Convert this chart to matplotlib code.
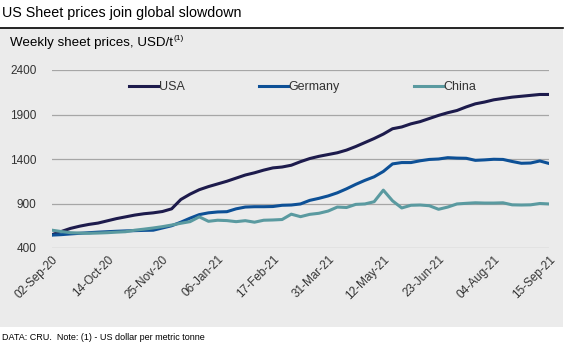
import numpy as np
import pandas as pd
import matplotlib.pyplot as plt
from matplotlib.patches import Rectangle
from matplotlib.lines import Line2D

plt.rcParams['font.family'] = ['Liberation Sans', 'DejaVu Sans']

# weekly dates, 02-Sep-20 .. 15-Sep-21
dates = pd.date_range("2020-09-02", "2021-09-15", freq="7D")

usa = [550, 585, 620, 645, 665, 680, 705, 730, 750, 770, 785, 795, 810, 840,
       945, 1005, 1055, 1090, 1120, 1150, 1185, 1220, 1245, 1275, 1300, 1310,
       1330, 1370, 1405, 1430, 1450, 1470, 1500, 1540, 1585, 1630, 1680, 1740,
       1760, 1795, 1820, 1855, 1890, 1920, 1945, 1985, 2020, 2040, 2065, 2080,
       2095, 2105, 2115, 2125, 2125]

germany = [545, 550, 558, 565, 572, 578, 583, 588, 592, 595, 598, 600, 625, 650,
           690, 735, 775, 795, 805, 808, 840, 860, 864, 864, 866, 880, 883, 895,
           935, 958, 985, 1020, 1065, 1115, 1160, 1200, 1260, 1345, 1360, 1360,
           1380, 1395, 1400, 1415, 1410, 1408, 1385, 1390, 1397, 1395, 1372,
           1352, 1355, 1378, 1350]

china = [600, 585, 572, 568, 565, 568, 572, 578, 583, 600, 612, 625, 640, 658,
         678, 696, 750, 700, 712, 708, 696, 707, 690, 712, 715, 720, 780, 752,
         778, 790, 815, 860, 855, 890, 895, 920, 1050, 930, 850, 880, 883, 875,
         835, 860, 895, 902, 908, 905, 905, 908, 885, 883, 885, 900, 895]

yticks = [400, 900, 1400, 1900, 2400]

c_usa = "#1d1b4c"
c_ger = "#0d5096"
c_chn = "#5a9aa0"

fig = plt.figure(figsize=(5.68, 3.45), dpi=100)

# grey panel and title rule
fig.add_artist(Rectangle((0, 1 - 327 / 345), 563 / 568, (327 - 28) / 345,
                         transform=fig.transFigure, facecolor="#ebebeb",
                         edgecolor="none", zorder=-5))
fig.add_artist(Line2D([0, 563 / 568], [1 - 27.5 / 345] * 2, color="black", lw=1.2))
fig.text(0.004, 1 - 13 / 345, "US Sheet prices join global slowdown",
         fontsize=10.3, va="center", ha="left")
fig.text(10 / 568, 1 - 43 / 345, "Weekly sheet prices, USD/t",
         fontsize=9.6, va="center", ha="left")
fig.text(173 / 568, 1 - 39 / 345, "(1)", fontsize=6, va="center", ha="left")
fig.text(0.004, 1 - 338 / 345, "DATA: CRU.  Note: (1) - US dollar per metric tonne",
         fontsize=6.5, va="center", ha="left")

ax = fig.add_axes([52 / 568, 1 - 248 / 345, (549 - 52) / 568, (248 - 70) / 345])
ax.set_facecolor("none")

x = np.arange(len(dates))
ax.plot(x, usa, color=c_usa, lw=2.2, label="USA")
ax.plot(x, germany, color=c_ger, lw=2.2, label="Germany")
ax.plot(x, china, color=c_chn, lw=2.2, label="China")

ax.set_ylim(400, 2400)
ax.set_xlim(0, len(dates) - 1)
ax.set_yticks(yticks)
ax.yaxis.grid(True, color="#a6a6a6", lw=0.9)
ax.set_axisbelow(True)

xt = x[::6]
ax.set_xticks(xt)
ax.set_xticklabels([dates[i].strftime("%d-%b-%y") for i in xt], rotation=45,
                   ha="right", va="top", rotation_mode="anchor", fontsize=8.5,
                   color="#333333")
ax.tick_params(axis="both", length=0, labelsize=8.5, labelcolor="#333333")
ax.tick_params(axis="x", pad=4)
ax.tick_params(axis="y", pad=11)
for s in ax.spines.values():
    s.set_visible(False)

ax.legend(loc="upper center", bbox_to_anchor=(0.505, 1.0), ncol=3, frameon=False,
          fontsize=9, handlelength=2.3, handletextpad=0.1, columnspacing=5.9,
          labelcolor="#333333")

plt.savefig("out.png", dpi=100)
